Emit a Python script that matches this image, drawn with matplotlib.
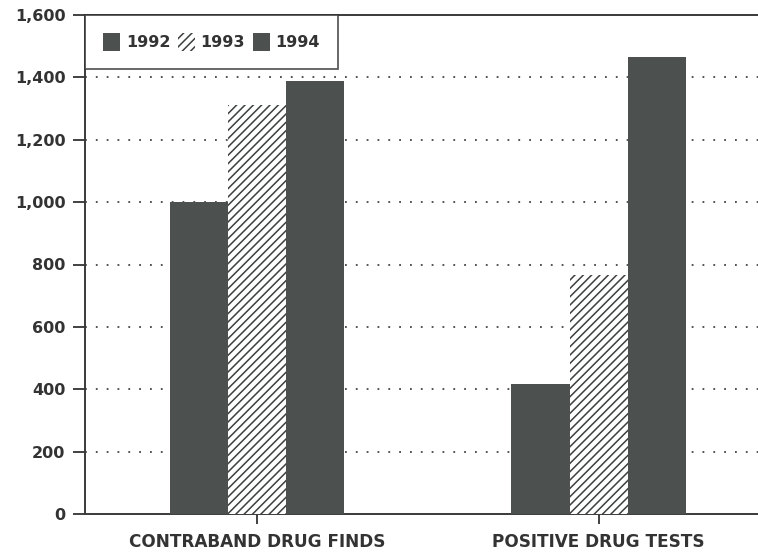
import matplotlib
matplotlib.use("Agg")
import matplotlib.pyplot as plt
import numpy as np

categories = ["CONTRABAND DRUG FINDS", "POSITIVE DRUG TESTS"]
years = ["1992", "1993", "1994"]
values_1992 = [1000, 417]
values_1993 = [1310, 765]
values_1994 = [1387, 1465]
yticks = [0, 200, 400, 600, 800, 1000, 1200, 1400, 1600]
ytick_labels = ["0", "200", "400", "600", "800", "1,000", "1,200", "1,400", "1,600"]

plt.rcParams['font.family'] = ['DejaVu Sans']
plt.rcParams['hatch.linewidth'] = 1.1
plt.rcParams['hatch.color'] = '#3c403f'

fig = plt.figure(figsize=(7.58, 5.53), dpi=100)
ax = fig.add_axes([85/758, 1 - 514/553, 1 - 85/758, (514 - 15)/553])

x = np.arange(len(categories))
w = 0.17
dark = '#4c504f'
ax.bar(x - w, values_1992, w, color=dark, edgecolor=dark, linewidth=0, label=years[0], zorder=3)
ax.bar(x, values_1993, w, color='white', edgecolor='#3c403f', hatch='////', linewidth=0, label=years[1], zorder=3)
ax.bar(x + w, values_1994, w, color=dark, edgecolor=dark, linewidth=0, label=years[2], zorder=3)

ax.set_ylim(0, 1600)
ax.set_xlim(-0.504, 1.467)
ax.set_yticks(yticks)
ax.set_yticklabels(ytick_labels)
ax.set_xticks(x)
ax.set_xticklabels(categories)

for t in ax.get_yticklabels():
    t.set_fontweight('bold'); t.set_fontsize(11.5); t.set_color('#333333')
for t in ax.get_xticklabels():
    t.set_fontweight('bold'); t.set_fontsize(12.2); t.set_color('#333333')

ax.tick_params(axis='y', length=9, width=1.3, pad=5, colors='#333333')
ax.tick_params(axis='x', length=7, width=1.3, pad=7, colors='#333333')

for s in ['left', 'bottom', 'top']:
    ax.spines[s].set_linewidth(1.4)
    ax.spines[s].set_color('#3a3a3a')
ax.spines['right'].set_visible(False)

for yv in yticks[1:-1]:
    ax.axhline(yv, color='#444444', linestyle=(0, (1, 5)), linewidth=1.3, zorder=1)

leg = ax.legend(loc='upper left', bbox_to_anchor=(0, 1), borderaxespad=0, ncol=3,
                frameon=True, fancybox=False, edgecolor='#333333',
                prop={'weight': 'bold', 'size': 11.5}, handlelength=1.05, handleheight=1.3,
                handletextpad=0.35, columnspacing=0.5, borderpad=1.15)
leg.get_frame().set_linewidth(1.3)
for t in leg.get_texts():
    t.set_color('#333333')
leg.set_zorder(5)

fig.savefig("out.png", dpi=100)
